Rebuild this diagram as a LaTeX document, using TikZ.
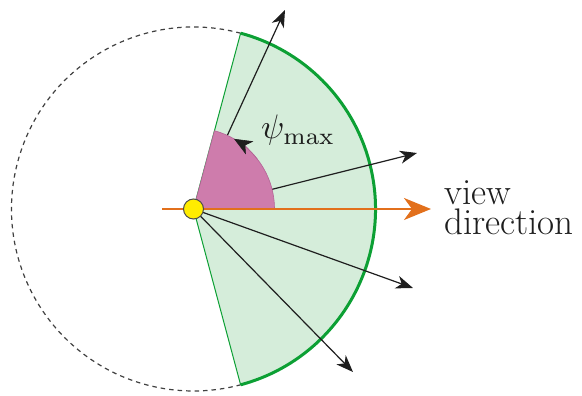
\documentclass[tikz,border=0pt]{standalone}
\usepackage{graphicx}
\usetikzlibrary{arrows.meta}
\definecolor{sectfill}{RGB}{213,237,218}
\definecolor{sectline}{RGB}{12,160,52}
\definecolor{pinkfill}{RGB}{206,124,172}
\definecolor{pinkline}{RGB}{180,100,150}
\definecolor{orangeline}{RGB}{226,112,28}
\definecolor{yellowdot}{RGB}{255,236,0}
\definecolor{ink}{RGB}{30,30,30}
\tikzset{
  rayarrow/.style={draw=ink, line width=1.2pt, -{Stealth[length=17pt,width=13pt,inset=5pt]}},
  viewarrow/.style={draw=orangeline, line width=2.4pt, -{Stealth[length=27pt,width=22pt,inset=8pt]}},
  lbl/.style={text=ink, inner sep=0pt, font=\fontsize{37}{30}\selectfont},
}
\begin{document}
\begin{tikzpicture}[x=1pt,y=1pt]
\useasboundingbox (0,0) rectangle (582,396);
\coordinate (C) at (193.5,187);
\coordinate (t1) at (285,386);
\coordinate (t2) at (417,243);
\coordinate (t3) at (413,108);
\coordinate (t4) at (353,24);
\coordinate (o1) at (162,187);
\coordinate (o2) at (431,187);
% sector fill
\fill[sectfill] (C) -- ++(-75:182) arc[start angle=-75,end angle=75,radius=182] -- cycle;
% dashed circle part
\draw[ink!85, line width=1.2pt, dash pattern=on 4.5pt off 4pt] (C) ++(75:182) arc[start angle=75,end angle=285,radius=182];
% sector edges
\draw[sectline, line width=1pt] (C) -- ++(75:182);
\draw[sectline, line width=1pt] (C) -- ++(-75:182);
% thick arc
\draw[sectline, line width=3pt] (C) ++(-75:182) arc[start angle=-75,end angle=75,radius=182];
% rays partly under pink
\draw[rayarrow] (C) -- (t1);
\draw[rayarrow] (C) -- (t2);
% pink sector
\filldraw[fill=pinkfill, draw=pinkline, line width=0.6pt] (C) -- ++(0:81) arc[start angle=0,end angle=75,radius=81] -- cycle;
% psi arrow head
\draw[pinkline, line width=0.6pt, -{Stealth[length=18pt,width=15pt,inset=5pt,color=ink]}] (C) ++(38:81) arc[start angle=38,end angle=60,radius=81];
% lower rays
\draw[rayarrow] (C) -- (t3);
\draw[rayarrow] (C) -- (t4);
% view direction
\draw[viewarrow] (o1) -- (o2);
\filldraw[fill=yellowdot, draw=ink!80, line width=1pt] (C) circle[radius=10];
% labels
\node[text=ink, inner sep=0pt, anchor=base west] (psi) at (261,257) {\scalebox{3.4}{$\psi_{\mathrm{max}}$}};
\node[lbl, anchor=base west, align=left] (vd) at (444,161) {view\\direction};
\end{tikzpicture}
\end{document}
